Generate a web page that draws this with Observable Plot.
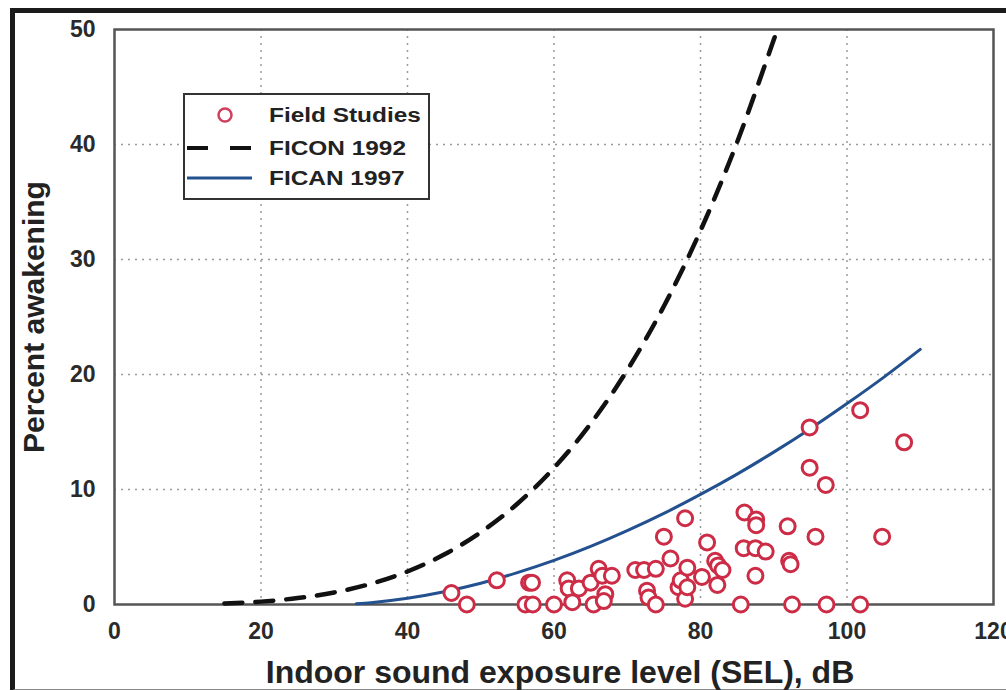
<!DOCTYPE html>
<html>
<head>
<meta charset="utf-8">
<script src="https://cdn.jsdelivr.net/npm/d3@7"></script>
<script src="https://cdn.jsdelivr.net/npm/@observablehq/plot@0.6"></script>
<style>
  body { margin: 0; background: #fff; overflow: hidden; font-family: "Liberation Sans", Arial, sans-serif; }
  #wrap { position: relative; width: 1006px; height: 690px; }
  #frame { position: absolute; left: 10px; top: 8px; width: 1100px; height: 676px;
           border-top: 5px solid #1b1b1b; border-left: 5px solid #1b1b1b; border-bottom: 2px solid #888; }
  #chart { position: absolute; left: 0; top: 0; }
  #legend { position: absolute; left: 183px; top: 93px; width: 243px; height: 103px;
            border: 2px solid #333; background: #fff; }
  .row { position: absolute; left: 0; height: 30px; width: 243px; }
  .row svg { position: absolute; left: 0; top: 0; }
  .row span { position: absolute; left: 84px; top: 0; line-height: 30px; font-size: 20px; font-weight: bold;
              color: #222; transform: scaleX(1.22); transform-origin: left center; white-space: nowrap; }
</style>
</head>
<body>
<div id="wrap">
  <div id="frame"></div>
  <div id="chart"></div>
  <div id="legend"></div>
</div>
<script>
// ---- data ----
const fieldSel = [46.0, 48.1, 52.2, 56.1, 56.6, 57.0, 57.1, 60.0, 61.8, 62.0, 62.5, 63.4, 65.0, 65.4, 66.1, 66.6, 67.0, 66.8, 67.9,
                  71.1, 72.3, 72.7, 72.9, 73.9, 73.9, 75.0, 75.9, 77.0, 77.3, 77.9, 77.9, 78.2, 78.2, 80.2, 80.9, 82.0, 82.4, 82.3, 83.0,
                  85.5, 86.0, 85.9, 87.5, 87.5, 87.6, 87.6, 88.9, 91.9, 92.1, 92.3, 92.5, 94.9, 94.9, 95.7, 97.1, 97.2, 101.8, 101.8, 104.8, 107.8];
const fieldPct = [1.0, 0.0, 2.1, 0.0, 1.9, 1.9, 0.0, 0.0, 2.1, 1.4, 0.2, 1.4, 1.9, 0.0, 3.1, 2.5, 0.9, 0.3, 2.5,
                  3.0, 3.0, 1.2, 0.6, 3.1, 0.0, 5.9, 4.0, 1.5, 2.1, 7.5, 0.5, 3.2, 1.5, 2.4, 5.4, 3.8, 3.4, 1.7, 3.0,
                  0.0, 8.0, 4.9, 4.9, 2.5, 7.4, 6.9, 4.6, 6.8, 3.8, 3.5, 0.0, 15.4, 11.9, 5.9, 10.4, 0.0, 16.9, 0.0, 5.9, 14.1];

const ficonSel = [15, 20, 25, 30, 35, 40, 45, 50, 55, 60, 65, 70, 75, 80, 85, 90, 90.5];
const ficonPct = [0.09, 0.25, 0.56, 1.05, 1.80, 2.87, 4.34, 6.28, 8.76, 11.88, 15.72, 20.38, 25.94, 32.51, 40.20, 49.10, 50.0];

const ficanSel = [33, 35, 40, 45, 50, 55, 60, 65, 70, 75, 80, 85, 90, 95, 100, 105, 110];
const ficanPct = [0.06, 0.16, 0.54, 1.11, 1.85, 2.77, 3.83, 5.05, 6.42, 7.92, 9.57, 11.34, 13.25, 15.29, 17.47, 19.75, 22.18];

const xTicks = [0, 20, 40, 60, 80, 100, 120];
const yTicks = [0, 10, 20, 30, 40, 50];
const xGridTicks = [20, 40, 60, 80, 100];
const yGridTicks = [10, 20, 30, 40];

const xTitle = "Indoor sound exposure level (SEL), dB";
const yTitle = "Percent awakening";
const legendLabels = ["Field Studies", "FICON 1992", "FICAN 1997"];

// ---- colours ----
const pointColor = "#cc2c46";
const ficonColor = "#111111";
const ficanColor = "#23508e";

// ---- tables ----
const field = fieldSel.map((x, i) => ({x, y: fieldPct[i]}));
const ficon = ficonSel.map((x, i) => ({x, y: ficonPct[i]}));
const fican = ficanSel.map((x, i) => ({x, y: ficanPct[i]}));

const chart = Plot.plot({
  width: 1006,
  height: 690,
  marginLeft: 114,
  marginRight: 13,
  marginTop: 29,
  marginBottom: 86,
  style: {fontFamily: '"Liberation Sans", Arial, sans-serif', fontWeight: "bold", background: "transparent", color: "#2a2a2a", overflow: "visible"},
  x: {domain: [0, 120]},
  y: {domain: [0, 50]},
  marks: [
    Plot.gridX(xGridTicks, {stroke: "#9a9a9a", strokeOpacity: 1, strokeWidth: 1.5, strokeDasharray: "2,5"}),
    Plot.gridY(yGridTicks, {stroke: "#9a9a9a", strokeOpacity: 1, strokeWidth: 1.5, strokeDasharray: "2,5"}),
    Plot.frame({stroke: "#555", strokeWidth: 2.5}),
    Plot.axisX(xTicks, {tickSize: 0, tickPadding: 18, fontSize: 23, label: null}),
    Plot.axisY(yTicks, {tickSize: 0, tickPadding: 19, fontSize: 23, label: null}),
    Plot.line(ficon, {x: "x", y: "y", stroke: ficonColor, strokeWidth: 4.5, strokeDasharray: "18,13", curve: "monotone-x"}),
    Plot.line(fican, {x: "x", y: "y", stroke: ficanColor, strokeWidth: 3, curve: "monotone-x"}),
    Plot.dot(field, {x: "x", y: "y", r: 7.5, stroke: pointColor, strokeWidth: 3, fill: "white"}),
    Plot.text([xTitle], {text: d => d, frameAnchor: "bottom", dy: 78, dx: 6, lineAnchor: "bottom", fontSize: 32, fill: "#222"}),
    Plot.text([yTitle], {text: d => d, frameAnchor: "left", dx: -92, rotate: -90, textAnchor: "middle", lineAnchor: "top", fontSize: 30, fill: "#222"})
  ]
});
document.getElementById("chart").appendChild(chart);

// ---- legend (HTML overlay) ----
const legend = document.getElementById("legend");
const rowTops = [5, 38, 68];
legendLabels.forEach((label, i) => {
  const row = document.createElement("div");
  row.className = "row";
  row.style.top = rowTops[i] + "px";
  let sw = "";
  if (i === 0) sw = `<circle cx="40" cy="15" r="6.5" fill="none" stroke="#d0405e" stroke-width="2.5"/>`;
  if (i === 1) sw = `<line x1="2" x2="67" y1="15" y2="15" stroke="${ficonColor}" stroke-width="4" stroke-dasharray="21,22"/>`;
  if (i === 2) sw = `<line x1="2" x2="67" y1="15" y2="15" stroke="${ficanColor}" stroke-width="3"/>`;
  row.innerHTML = `<svg width="75" height="30">${sw}</svg><span>${label}</span>`;
  legend.appendChild(row);
});
</script>
</body>
</html>
